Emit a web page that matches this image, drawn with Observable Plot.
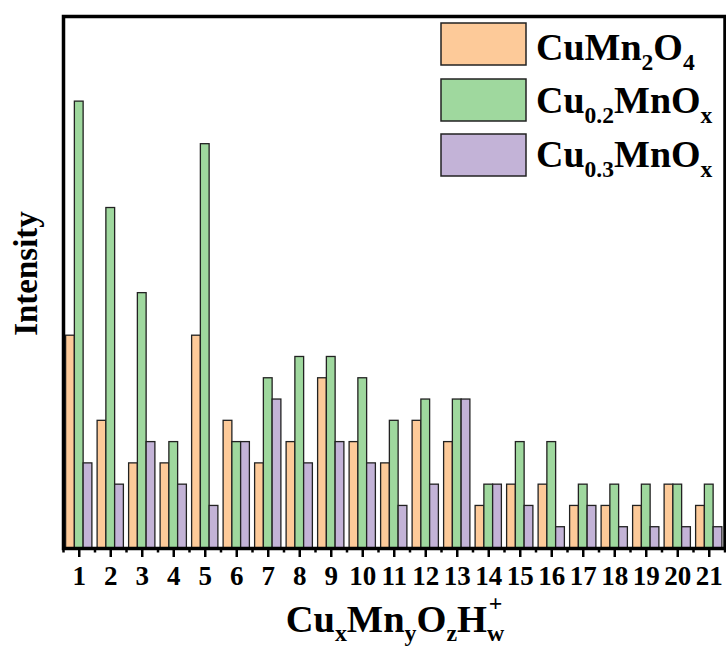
<!DOCTYPE html>
<html>
<head>
<meta charset="utf-8">
<script src="https://cdn.jsdelivr.net/npm/d3@7"></script>
<script src="https://cdn.jsdelivr.net/npm/@observablehq/plot@0.6"></script>
<style>
  html, body { margin: 0; padding: 0; background: #fff; }
  #chart svg text { font-weight: bold; font-family: "Times New Roman", serif; }
</style>
</head>
<body>
<div id="chart"></div>
<script>
const categories = [1,2,3,4,5,6,7,8,9,10,11,12,13,14,15,16,17,18,19,20,21];
const seriesNames = ["CuMn2O4", "Cu0.2MnOx", "Cu0.3MnOx"];
const cuMn2O4  = [10,6,4,4,10,6,4,5,8,5,4,6,5,2,3,3,2,2,2,3,2];
const cu02MnOx = [21,16,12,5,19,5,8,9,9,8,6,7,7,3,5,5,3,3,3,3,3];
const cu03MnOx = [4,3,5,3,2,5,7,4,5,4,2,3,7,3,2,1,2,1,1,1,1];
const colors = ["#FDCA99", "#9FD89E", "#C3B3D7"];

const seriesValues = [cuMn2O4, cu02MnOx, cu03MnOx];
const barW = 0.278;
const data = [];
categories.forEach((c, i) => {
  seriesValues.forEach((vals, s) => {
    const x1 = c - 1.5 * barW + s * barW;
    data.push({cat: c, series: seriesNames[s], x1, x2: x1 + barW, value: vals[i]});
  });
});

const W = 726, H = 648;
const mL = 63, mR = 1.5, mT = 16, mB = 100;
const ff = "\"Times New Roman\", serif";

const plot = Plot.plot({
  width: W,
  height: H,
  marginLeft: mL,
  marginRight: mR,
  marginTop: mT,
  marginBottom: mB,
  style: {fontFamily: ff, background: "#fff"},
  x: {type: "linear", domain: [0.5, 21.5], axis: null},
  y: {domain: [0, 25], axis: null},
  color: {domain: seriesNames, range: colors},
  marks: [
    Plot.rect(data, {x1: "x1", x2: "x2", y1: 0, y2: "value", fill: "series", stroke: "#222", strokeWidth: 1.3}),
    Plot.axisX({ticks: d3.range(0.5, 22, 1), tickSize: 4.5, strokeWidth: 2.5, tickFormat: () => "", stroke: "#000"}),
    Plot.axisX({ticks: categories, tickSize: 9, tickPadding: 8, strokeWidth: 2.5, stroke: "#000", fill: "#000",
                fontSize: 27, tickFormat: d => String(d)}),
    Plot.frame({stroke: "#000", strokeWidth: 3.5})
  ]
});

document.getElementById("chart").appendChild(plot);

const svg = d3.select(plot);

// y-axis label
svg.append("text")
  .attr("transform", "translate(36.5,273.5) rotate(-90)")
  .attr("text-anchor", "middle")
  .attr("font-family", ff)
  .attr("font-weight", "bold")
  .attr("font-size", 33)
  .attr("fill", "#000")
  .text("Intensity");

function richText(g, x, y, size, parts, anchor, subShift) {
  const t = g.append("text")
    .attr("x", x).attr("y", y)
    .attr("font-family", ff).attr("font-weight", "bold")
    .attr("font-size", size).attr("fill", "#000")
    .attr("text-anchor", anchor || "start");
  let shift = 0;
  const subSize = size * 0.62;
  parts.forEach(([txt, type, dxExtra]) => {
    let target = 0;
    if (type === "sub") target = size * (subShift || 0.26);
    if (type === "sup") target = -size * 0.55;
    const ts = t.append("tspan").text(txt)
      .attr("dy", target - shift)
      .attr("font-size", type === "n" ? size : subSize);
    if (dxExtra) ts.attr("dx", dxExtra);
    shift = target;
  });
  return t;
}

// x-axis label
const xs = 38.5;
richText(svg, 395, 632, xs, [
  ["Cu", "n"], ["x", "sub"], ["Mn", "n"], ["y", "sub"], ["O", "n"], ["z", "sub"], ["H", "n"],
  ["w", "sub"], ["+", "sup", -(0.722 * xs * 0.62) + (0.722 - 0.570) * xs * 0.62 / 2]
], "middle", 0.24);

// legend
const lg = svg.append("g");
const legendLabels = [
  [["Cu", "n"], ["Mn", "n"], ["2", "sub"], ["O", "n"], ["4", "sub"]],
  [["Cu", "n"], ["0.2", "sub"], ["MnO", "n"], ["x", "sub"]],
  [["Cu", "n"], ["0.3", "sub"], ["MnO", "n"], ["x", "sub"]]
];
const boxTops = [23, 79, 134];
const baselines = [60, 113, 167];
seriesNames.forEach((s, i) => {
  lg.append("rect")
    .attr("x", 441).attr("y", boxTops[i])
    .attr("width", 85).attr("height", 42)
    .attr("fill", colors[i]).attr("stroke", "#222").attr("stroke-width", 1.5);
  richText(lg, 536, baselines[i], 38, legendLabels[i], "start");
});
</script>
</body>
</html>
